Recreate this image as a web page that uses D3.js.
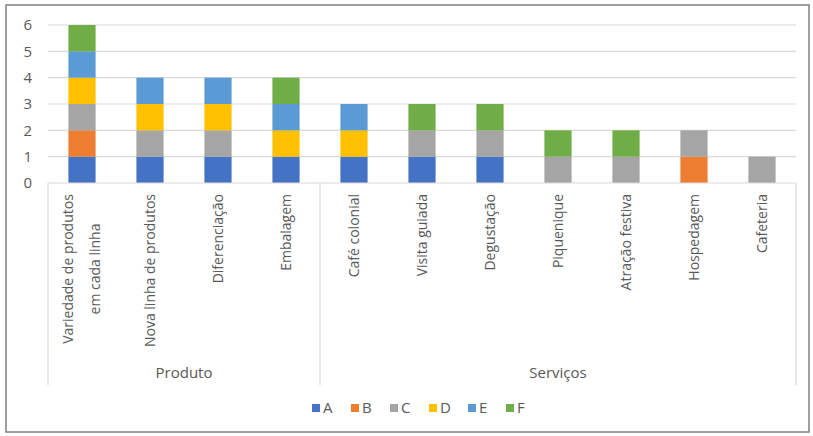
<!DOCTYPE html>
<html>
<head>
<meta charset="utf-8">
<script src="https://cdn.jsdelivr.net/npm/d3@7"></script>
<style>
  body { margin: 0; background: #fff; }
  text { font-family: "Open Sans", "Noto Sans", sans-serif; fill: #595959; }
</style>
</head>
<body>
<div id="chart"></div>
<script>
const categories = ['Variedade de produtos|em cada linha', 'Nova linha de produtos', 'Diferenciação', 'Embalagem',
    'Café colonial', 'Visita guiada', 'Degustação', 'Piquenique', 'Atração festiva', 'Hospedagem', 'Cafeteria']
const groups = [
    { name: 'Produto', from: 0, to: 3 },
    { name: 'Serviços', from: 4, to: 10 }
]
const seriesNames = ['A', 'B', 'C', 'D', 'E', 'F']
const colors = ['#4472c4', '#ed7d31', '#a5a5a5', '#ffc000', '#5b9bd5', '#70ad47']
const A = [1, 1, 1, 1, 1, 1, 1, 0, 0, 0, 0]
const B = [1, 0, 0, 0, 0, 0, 0, 0, 0, 1, 0]
const C = [1, 1, 1, 0, 0, 1, 1, 1, 1, 1, 1]
const D = [1, 1, 1, 1, 1, 0, 0, 0, 0, 0, 0]
const E = [1, 1, 1, 1, 1, 0, 0, 0, 0, 0, 0]
const F = [1, 0, 0, 1, 0, 1, 1, 1, 1, 0, 0]
const yTicks = [0, 1, 2, 3, 4, 5, 6]

const width = 813
const height = 436
const plot = { left: 48, right: 796, top: 25, bottom: 183 }

const svg = d3.select('#chart')
    .append('svg')
    .attr('width', width)
    .attr('height', height)

// outer frame
svg.append('rect')
    .attr('x', 6).attr('y', 5)
    .attr('width', 803).attr('height', 427)
    .attr('fill', 'none')
    .attr('stroke', '#7f7f7f')
    .attr('stroke-width', 1.5)

const table = categories.map((c, i) => ({ cat: c, A: A[i], B: B[i], C: C[i], D: D[i], E: E[i], F: F[i] }))
const stacked = d3.stack().keys(seriesNames)(table)

const xScale = d3.scaleBand()
    .domain(categories)
    .range([plot.left, plot.right])
    .paddingInner(0.6)
    .paddingOuter(0.3)

const yScale = d3.scaleLinear()
    .domain([0, 6])
    .range([plot.bottom, plot.top])

// gridlines
svg.append('g')
    .selectAll('line')
    .data(yTicks.slice(1))
    .enter()
    .append('line')
    .attr('x1', plot.left).attr('x2', plot.right)
    .attr('y1', d => yScale(d)).attr('y2', d => yScale(d))
    .attr('stroke', '#d9d9d9')
    .attr('stroke-width', 1.2)

// y axis labels
const yAxis = d3.axisLeft(yScale).tickValues(yTicks).tickFormat(d3.format('d')).tickSize(0).tickPadding(16)
svg.append('g')
    .attr('transform', `translate(${plot.left}, 0)`)
    .call(yAxis)
    .call(g => g.select('.domain').remove())
    .selectAll('text')
    .style('font-size', '15px')
    .attr('fill', '#595959')

// bars
svg.append('g')
    .selectAll('g')
    .data(stacked)
    .enter()
    .append('g')
    .attr('fill', (d, i) => colors[i])
    .selectAll('rect')
    .data(d => d)
    .enter()
    .append('rect')
    .attr('x', d => xScale(d.data.cat))
    .attr('width', xScale.bandwidth())
    .attr('y', d => yScale(d[1]))
    .attr('height', d => yScale(d[0]) - yScale(d[1]))

// category axis
const axisG = svg.append('g')
axisG.append('line')
    .attr('x1', plot.left).attr('x2', plot.right)
    .attr('y1', plot.bottom).attr('y2', plot.bottom)
    .attr('stroke', '#d9d9d9').attr('stroke-width', 1.2)

const step = xScale.step()
const dividers = [0].concat(groups.map(g => g.to + 1))
axisG.selectAll('.divider')
    .data(dividers)
    .enter()
    .append('line')
    .attr('x1', d => plot.left + d * step).attr('x2', d => plot.left + d * step)
    .attr('y1', plot.bottom).attr('y2', 385)
    .attr('stroke', '#d9d9d9').attr('stroke-width', 1.2)

categories.forEach(c => {
    const cx = xScale(c) + xScale.bandwidth() / 2
    const lines = c.split('|')
    const t = axisG.append('text')
        .attr('transform', `translate(${cx}, 194) rotate(-90)`)
        .attr('text-anchor', 'end')
        .style('font-size', '14px')
    lines.forEach((ln, j) => {
        const off = (j - (lines.length - 1) / 2) * 27
        t.append('tspan')
            .attr('x', 0)
            .attr('y', off)
            .attr('dy', '0.35em')
            .attr('text-anchor', lines.length > 1 ? 'middle' : 'end')
            .text(ln)
    })
    if (lines.length > 1) {
        // center the two lines on each other, anchored at the top
        const bb = t.node().getBBox()
        t.selectAll('tspan').attr('x', -bb.width / 2)
    }
})

axisG.selectAll('.group')
    .data(groups)
    .enter()
    .append('text')
    .attr('x', d => plot.left + (d.from + d.to + 1) / 2 * step)
    .attr('y', 378)
    .attr('text-anchor', 'middle')
    .style('font-size', '15px')
    .text(d => d.name)

// legend
const legendX = [312, 351, 390, 429, 468, 506]
const legend = svg.append('g')
    .selectAll('g')
    .data(seriesNames)
    .enter()
    .append('g')
    .attr('transform', (d, i) => `translate(${legendX[i]}, 408)`)
legend.append('rect')
    .attr('x', 0).attr('y', -4)
    .attr('width', 8).attr('height', 8)
    .attr('fill', (d, i) => colors[i])
legend.append('text')
    .attr('x', 11)
    .attr('dy', '0.35em')
    .style('font-size', '15px')
    .text(d => d)
</script>
</body>
</html>
